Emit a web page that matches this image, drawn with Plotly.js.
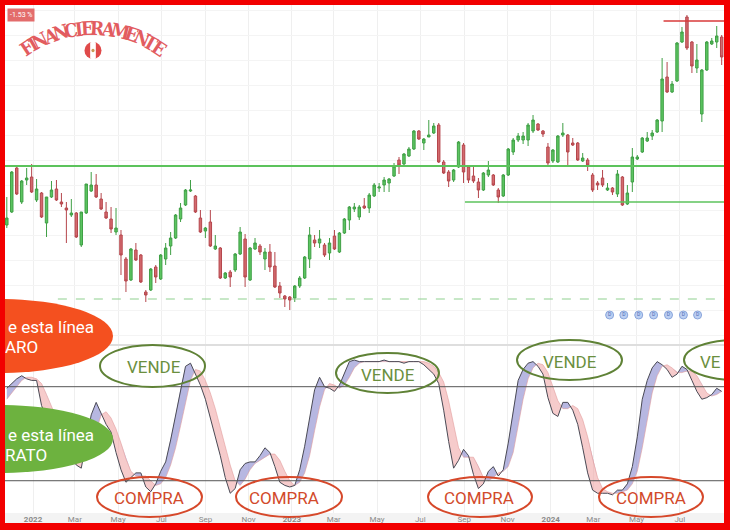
<!DOCTYPE html>
<html><head><meta charset="utf-8">
<script src="https://cdn.plot.ly/plotly-3.0.1.min.js"></script>
<style>
html,body{margin:0;padding:0;background:#f20000;width:730px;height:530px;overflow:hidden}
#chart{position:absolute;left:5px;top:5px;width:719px;height:518px;background:#fff}
</style></head><body><div id="chart"></div>
<script>
// ---------- DATA (weekly candles, first week 2021-11-25) ----------
const firstWeek = [2021, 10, 25];
const opens  = [13.5,14.8,19.2,15.8,18.0,18.3,16.0,16.7,13.7,16.3,17.1,15.8,15.2,14.5,14.7,11.5,14.7,16.9,17.5,16.1,14.8,14.1,12.8,12.5,10.1,8.0,11.0,10.5,6.8,7.0,9.3,8.1,10.1,11.4,12.2,14.1,15.5,16.9,16.4,14.2,12.9,13.8,11.1,11.2,8.2,8.8,9.0,10.6,12.1,8.0,11.1,11.4,10.1,10.8,9.4,7.4,6.4,6.3,6.2,7.4,8.2,10.1,12.0,11.7,11.5,10.7,12.4,10.8,12.7,14.0,15.1,14.3,15.4,15.2,16.4,17.2,17.5,17.7,18.4,20.0,19.6,20.4,21.1,22.9,21.7,22.3,22.7,23.5,19.8,18.8,18.0,19.3,21.5,19.3,18.4,17.8,17.0,18.5,18.5,17.0,16.4,18.5,20.8,22.0,22.0,22.0,22.9,23.6,22.9,21.3,19.9,19.8,22.5,22.5,21.7,21.7,19.9,20.0,18.5,17.7,18.2,17.0,17.2,16.6,18.3,15.6,17.8,20.1,20.8,21.9,22.4,22.8,23.9,28.3,26.8,27.9,31.8,34.3,31.8,29.2,24.6,29.0,31.6,31.8,32.3];
const highs  = [16.3,18.9,19.3,18.0,19.2,19.6,18.1,16.8,16.3,17.9,18.0,16.7,15.8,16.1,14.8,14.8,17.6,18.8,18.6,16.7,15.8,15.3,15.2,13.0,10.3,11.2,11.7,10.6,7.0,9.2,9.5,10.6,11.7,12.8,14.6,15.7,17.1,18.0,16.5,15.0,13.3,15.0,12.5,11.3,8.8,9.0,10.7,13.3,12.6,11.3,12.2,11.6,11.2,11.6,10.8,7.8,6.5,6.4,7.5,8.4,10.4,13.3,12.5,13.0,11.7,12.2,13.0,12.8,14.2,15.4,15.7,15.5,16.2,16.7,17.7,17.7,18.3,18.2,19.7,20.3,20.7,21.3,23.0,23.0,22.2,24.0,23.7,23.7,20.0,19.0,19.1,21.9,21.7,19.4,19.3,18.2,18.8,19.9,18.6,17.2,18.6,21.2,22.2,22.7,22.8,23.7,24.5,23.7,23.0,21.7,21.1,22.5,23.7,22.6,22.2,21.8,20.7,20.2,18.7,17.9,19.0,17.7,17.3,19.0,18.4,17.5,21.2,20.5,22.3,22.8,23.0,24.1,30.2,29.8,27.9,31.8,33.3,34.5,31.9,31.6,29.1,31.9,32.2,33.4,32.5];
const lows   = [13.2,14.7,16.5,15.6,17.5,16.7,15.8,14.2,12.3,16.2,15.9,15.3,11.7,14.3,12.2,11.3,14.6,16.8,16.2,15.0,14.1,12.7,12.5,8.5,6.8,7.9,9.9,7.7,5.8,6.9,7.7,8.0,9.5,10.5,12.1,13.8,15.4,16.8,14.7,12.7,12.2,11.3,11.0,8.1,8.1,7.3,8.8,10.5,7.3,7.9,11.0,10.5,9.0,8.8,7.2,6.2,5.3,5.0,5.8,7.2,8.1,9.2,11.3,11.2,10.3,10.0,11.0,10.7,12.6,13.0,14.8,14.0,15.1,14.7,16.3,16.8,16.8,16.8,18.3,18.6,19.5,20.3,21.0,22.0,21.0,22.3,22.6,19.7,18.6,17.3,17.8,19.2,17.7,17.7,17.7,16.2,16.9,18.3,17.4,15.7,16.3,18.4,20.5,21.8,21.6,21.4,22.7,22.9,22.3,19.5,19.7,19.7,22.3,19.3,21.4,19.9,19.8,18.9,16.8,17.0,17.3,16.9,16.5,16.3,15.4,15.5,16.8,20.0,20.7,21.8,22.0,22.7,22.8,26.7,26.7,27.8,31.7,31.0,28.7,28.7,23.8,28.9,31.5,31.2,29.5];
const closes = [14.2,18.8,16.6,17.9,18.2,16.8,17.1,14.3,16.3,17.0,16.0,15.6,15.0,14.7,12.3,14.8,17.6,17.5,16.3,15.1,14.2,13.1,13.2,10.5,7.9,11.1,10.0,7.8,6.5,9.1,8.3,10.5,11.2,12.2,14.5,15.2,17.0,17.0,14.8,12.8,13.2,11.4,11.4,8.2,8.7,8.3,10.6,12.8,8.3,11.2,11.7,10.8,10.8,9.3,7.3,6.7,6.1,6.0,7.4,8.2,10.3,12.5,11.7,12.1,10.5,11.7,11.1,12.7,14.1,15.3,15.3,15.3,15.2,16.5,17.5,17.3,18.0,18.1,19.4,19.5,20.6,21.1,22.9,22.1,22.1,22.5,23.4,19.8,18.7,17.9,19.0,21.8,18.8,18.0,17.9,17.0,18.7,19.0,17.5,16.3,18.5,21.1,22.0,22.4,22.4,23.5,24.0,23.0,22.6,19.7,21.0,22.4,22.7,20.8,21.5,20.0,20.2,19.5,17.0,17.5,17.5,17.2,16.8,18.6,15.5,16.7,20.3,20.3,22.2,22.2,22.7,24.0,28.1,26.8,27.6,31.7,32.8,31.2,29.4,30.0,29.0,31.8,31.9,32.4,30.3];
// Stochastic oscillator (%K fast, %D signal)
const stochK = [79,82,85,87,85,84,84,68,60,58,55,48,40,35,30,28,45,62,70,63,56,51,38,27,19,22,25,25,16,13,18,26,32,46,62,79,93,95,88,81,72,60,49,36,22,12,15,27,31,32,32,36,41,38,29,19,17,16,17,27,42,59,78,86,80,79,77,81,89,96,97,96,96,96,96,96,97,96,96,96,95,96,96,96,94,91,88,82,65,45,28,33,40,36,24,15,18,26,29,23,27,44,65,84,91,95,96,93,88,73,63,61,70,70,65,56,41,25,14,12,12,12,11,14,14,18,29,48,72,84,92,96,94,91,86,88,93,91,84,77,72,73,75,79,77];
const stochD = [72,76,80,84,86,86,85,82,75,67,60,56,51,45,38,33,33,40,52,62,64,60,53,44,34,26,23,23,23,20,17,18,22,30,41,55,70,84,91,90,84,76,66,54,42,30,20,17,21,27,31,33,35,37,37,33,26,20,17,19,25,36,52,67,78,82,81,79,81,86,92,95,96,96,96,96,96,96,96,96,96,96,96,96,96,95,93,89,83,71,55,41,35,35,35,29,22,20,22,25,26,29,38,55,72,85,92,95,94,89,80,71,66,66,68,66,59,48,34,22,15,13,12,12,13,14,18,26,41,59,76,87,93,94,92,89,89,90,90,87,81,76,74,75,77];
const stochUpper = 80, stochLower = 20;
// Horizontal price levels
const resistanceLevel = 19.4;
const supportLevel = 15.8, supportFrom = '2023-09-02';
const topLevel = 33.9, topFrom = '2024-06-08';
const lowLevel = 6.1, lowFrom = '2022-02-05';
// Dividend event markers
const dividendDates = ['2024-03-24','2024-04-13','2024-05-04','2024-05-25','2024-06-15','2024-07-06','2024-07-26'];
// Axis ticks
const tickDates = ['2022-01-01','2022-03-01','2022-05-01','2022-07-01','2022-09-01','2022-11-01','2023-01-01','2023-03-01','2023-05-01','2023-07-01','2023-09-01','2023-11-01','2024-01-01','2024-03-01','2024-05-01','2024-07-01','2024-09-01'];
const tickLabels = ['<b>2022</b>','Mar','May','Jul','Sep','Nov','<b>2023</b>','Mar','May','Jul','Sep','Nov','<b>2024</b>','Mar','May','Jul','Sep'];
const changeBadge = '-1.53 %';
const logoText = 'FINANCIERAMENTE';

// ---------- helpers ----------
const DAY = 86400000;
const t0 = Date.UTC(firstWeek[0], firstWeek[1], firstWeek[2]);
const weeks = opens.map((_, i) => t0 + i * 7 * DAY);
const X0 = '2021-11-22 11:00', X1 = '2024-09-01 06:00';
const W = 719, H = 518, B = 10, PH = H - B;
const px = x => (x - 5) / W;          // page px -> paper x
const py = y => 1 - (y - 5) / PH;     // page px -> paper y
const split = 1 - (345 - 5) / PH;     // panel boundary

// fill between K and D with crossing points
const bx = [], bU = [], bL = [], bD = [];
for (let i = 0; i < weeks.length; i++) {
  const k = stochK[i], d = stochD[i];
  bx.push(weeks[i]); bU.push(Math.max(k, d)); bL.push(Math.min(k, d)); bD.push(d);
  if (i < weeks.length - 1) {
    const a = k - d, b = stochK[i + 1] - stochD[i + 1];
    if (a * b < 0) {
      const t = a / (a - b);
      const xc = weeks[i] + t * (weeks[i + 1] - weeks[i]);
      const yc = d + t * (stochD[i + 1] - d);
      bx.push(xc); bU.push(yc); bL.push(yc); bD.push(yc);
    }
  }
}

const traces = [
  {type:'candlestick', x:weeks, open:opens, high:highs, low:lows, close:closes,
   xaxis:'x', yaxis:'y', hoverinfo:'skip', showlegend:false, whiskerwidth:0,
   increasing:{line:{color:'#3f9f45', width:1}, fillcolor:'#5cc561'},
   decreasing:{line:{color:'#b5464c', width:1}, fillcolor:'#d46a6e'}},
  {type:'scatter', mode:'markers+text', x:dividendDates, y:dividendDates.map(() => 4.5),
   text:dividendDates.map(() => 'D'), textposition:'middle center',
   textfont:{size:5, color:'#4a6bb5', family:'Roboto'},
   marker:{size:8, color:'#bccff2', line:{color:'#8aa6dc', width:1}},
   xaxis:'x', yaxis:'y', hoverinfo:'skip', showlegend:false, cliponaxis:false},
  {type:'scatter', mode:'lines', x:bx, y:bD, line:{width:0, color:'rgba(0,0,0,0)'}, xaxis:'x', yaxis:'y2', hoverinfo:'skip', showlegend:false},
  {type:'scatter', mode:'lines', x:bx, y:bU, fill:'tonexty', fillcolor:'rgba(135,135,205,0.6)', line:{width:0, color:'rgba(0,0,0,0)'}, xaxis:'x', yaxis:'y2', hoverinfo:'skip', showlegend:false},
  {type:'scatter', mode:'lines', x:bx, y:bD, line:{width:0, color:'rgba(0,0,0,0)'}, xaxis:'x', yaxis:'y2', hoverinfo:'skip', showlegend:false},
  {type:'scatter', mode:'lines', x:bx, y:bL, fill:'tonexty', fillcolor:'rgba(238,160,160,0.55)', line:{width:0, color:'rgba(0,0,0,0)'}, xaxis:'x', yaxis:'y2', hoverinfo:'skip', showlegend:false},
  {type:'scatter', mode:'lines', x:weeks, y:stochD, line:{width:0.8, color:'rgba(225,150,150,0.7)'}, xaxis:'x', yaxis:'y2', hoverinfo:'skip', showlegend:false},
  {type:'scatter', mode:'lines', x:weeks, y:stochK, line:{width:1, color:'#4a4a55'}, xaxis:'x', yaxis:'y2', hoverinfo:'skip', showlegend:false}
];

const shapes = [
  {type:'line', xref:'paper', yref:'y2', x0:0, x1:1, y0:stochUpper, y1:stochUpper, line:{color:'#555', width:1}},
  {type:'line', xref:'paper', yref:'y2', x0:0, x1:1, y0:stochLower, y1:stochLower, line:{color:'#555', width:1}},
  {type:'line', xref:'paper', yref:'paper', x0:0, x1:1, y0:split, y1:split, line:{color:'#dedede', width:2}},
  {type:'line', xref:'paper', yref:'y', x0:0, x1:1, y0:resistanceLevel, y1:resistanceLevel, line:{color:'#5cc35c', width:2}},
  {type:'line', xref:'x', yref:'y', x0:supportFrom, x1:X1, y0:supportLevel, y1:supportLevel, line:{color:'#5cc35c', width:1.5}},
  {type:'line', xref:'x', yref:'y', x0:topFrom, x1:X1, y0:topLevel, y1:topLevel, line:{color:'#d83a3a', width:1.5}},
  {type:'line', xref:'x', yref:'y', x0:lowFrom, x1:X1, y0:lowLevel, y1:lowLevel, line:{color:'#8fd08f', width:1, dash:'dash'}},
  // big filled ellipses
  {type:'circle', xref:'paper', yref:'paper', x0:px(-113), x1:px(113), y0:py(373), y1:py(299), fillcolor:'#f4501f', line:{width:0}, layer:'above'},
  {type:'circle', xref:'paper', yref:'paper', x0:px(-113), x1:px(113), y0:py(473), y1:py(405), fillcolor:'#6db23f', line:{width:0}, layer:'above'}
];
const venEll = [[100,345,205,387],[336,353,439,393],[517,340,622,380],[684,340,788,380]];
const comEll = [[97,477,202,517],[236,477,342,517],[428,477,532,517],[599,477,703,517]];
venEll.forEach(e => shapes.push({type:'circle', xref:'paper', yref:'paper', x0:px(e[0]), x1:px(e[2]), y0:py(e[3]), y1:py(e[1]), line:{color:'#5f8236', width:2}, fillcolor:'rgba(0,0,0,0)', layer:'above'}));
comEll.forEach(e => shapes.push({type:'circle', xref:'paper', yref:'paper', x0:px(e[0]), x1:px(e[2]), y0:py(e[3]), y1:py(e[1]), line:{color:'#d6482a', width:2}, fillcolor:'rgba(0,0,0,0)', layer:'above'}));

// Peru flag badge
const fcx = 93, fcy = 50.5, fr = 8.5;
shapes.push({type:'circle', xref:'paper', yref:'paper', x0:px(fcx-fr), x1:px(fcx+fr), y0:py(fcy+fr), y1:py(fcy-fr), fillcolor:'#e04a4a', line:{width:0}, layer:'above'});
(function(){
  const w = fr/3, n = 8; let pts = [];
  for (let j = 0; j <= n; j++) { const dx = -w + 2*w*j/n; pts.push([fcx+dx, fcy - Math.sqrt(fr*fr-dx*dx)]); }
  for (let j = n; j >= 0; j--) { const dx = -w + 2*w*j/n; pts.push([fcx+dx, fcy + Math.sqrt(fr*fr-dx*dx)]); }
  const p = 'M ' + pts.map(q => px(q[0]) + ',' + py(q[1])).join(' L ') + ' Z';
  shapes.push({type:'path', xref:'paper', yref:'paper', path:p, fillcolor:'#ffffff', line:{width:0}, layer:'above'});
  shapes.push({type:'circle', xref:'paper', yref:'paper', x0:px(fcx-1.6), x1:px(fcx+1.6), y0:py(fcy+1.8), y1:py(fcy-1.8), fillcolor:'#c99a55', line:{width:0}, layer:'above'});
})();

const ann = [];
const addText = (text, x, y, size, color, anchor, extra) => ann.push(Object.assign({text, xref:'paper', yref:'paper', x:px(x), y:py(y), xanchor:anchor||'center', yanchor:'middle', showarrow:false, font:{family:'Roboto, sans-serif', size, color}}, extra||{}));
addText(changeBadge, 21, 15, 7, '#ffffff', 'center', {bgcolor:'#e36c6c', borderpad:2});
addText('e esta línea', 6, 327, 17, '#ffffff', 'left');
addText('ARO', 3, 347, 17, '#ffffff', 'left');
addText('e esta línea', 6, 435, 17, '#ffffff', 'left');
addText('RATO', 3, 455, 17, '#ffffff', 'left');
addText('VENDE', 154, 367, 17, '#6b8f3e');
addText('VENDE', 388, 375, 17, '#6b8f3e');
addText('VENDE', 570, 362, 17, '#6b8f3e');
addText('VE', 722.5, 362, 17, '#6b8f3e', 'right');
addText('COMPRA', 149, 498, 17, '#d24a2b');
addText('COMPRA', 284, 498, 17, '#d24a2b');
addText('COMPRA', 479, 498, 17, '#d24a2b');
addText('COMPRA', 651, 498, 17, '#d24a2b');

// arched logo text
(function(){
  const wmap = {F:.6,I:.38,N:.72,A:.7,C:.68,E:.64,R:.7,M:.9,T:.62};
  const ws = logoText.split('').map(c => wmap[c] || .65);
  const tot = ws.reduce((a,b)=>a+b,0);
  const R = 120, cx = 93, cy = 148, L = 150, sc = L / tot;
  let acc = 0;
  logoText.split('').forEach((c, i) => {
    const s = (acc + ws[i]/2 - tot/2) * sc; acc += ws[i];
    const th = s / R;
    ann.push({text:'<b>'+c+'</b>', xref:'paper', yref:'paper', x:px(cx + R*Math.sin(th)), y:py(cy - R*Math.cos(th)),
      xanchor:'center', yanchor:'middle', showarrow:false, textangle:th*180/Math.PI,
      font:{family:'DejaVu Serif Condensed, Liberation Serif, serif', size:19, color:'#e25c5f'}});
  });
})();

const layout = {
  width:W, height:H, margin:{l:0, r:0, t:0, b:B, pad:0},
  paper_bgcolor:'#f3f3f3', plot_bgcolor:'#ffffff', showlegend:false,
  xaxis:{type:'date', range:[X0, X1], anchor:'y2', domain:[0,1], tickvals:tickDates, ticktext:tickLabels,
    tickfont:{family:'Roboto, sans-serif', size:8, color:'#8a8a8a'}, ticks:'', showline:false, zeroline:false,
    showgrid:true, gridcolor:'#efefef', rangeslider:{visible:false}, fixedrange:true},
  yaxis:{domain:[split,1], range:[1.5,35.5], anchor:'x', showticklabels:false, zeroline:false, showgrid:true, gridcolor:'#f4f4f4', dtick:2.5, fixedrange:true},
  yaxis2:{domain:[0,split], range:[-0.6,106.6], anchor:'x', showticklabels:false, zeroline:false, showgrid:false, fixedrange:true},
  shapes, annotations:ann
};
Plotly.newPlot('chart', traces, layout, {staticPlot:true, displayModeBar:false});
</script></body></html>
